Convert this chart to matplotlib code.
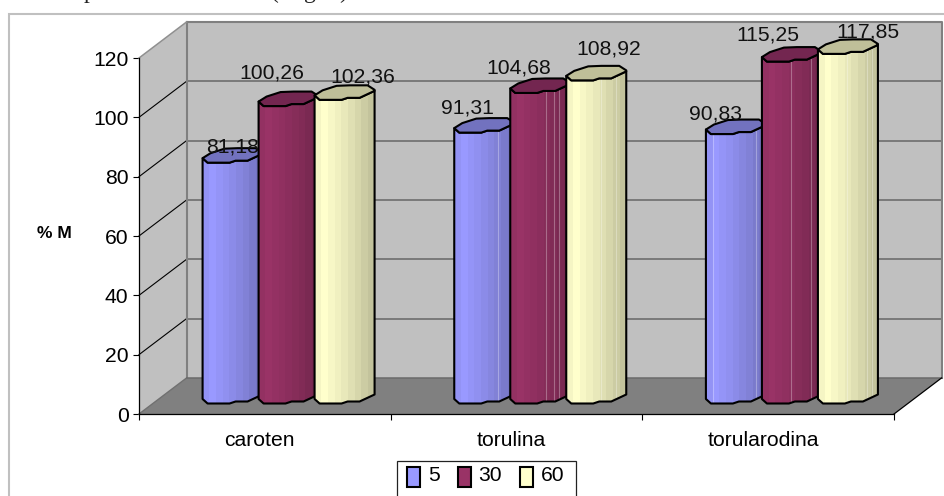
import matplotlib
matplotlib.use("Agg")
import matplotlib.pyplot as plt
from matplotlib.patches import Polygon, Patch, Rectangle
from matplotlib.legend_handler import HandlerPatch
from matplotlib.colors import to_rgb

# Chart data
categories = ["caroten", "torulina", "torularodina"]
series_names = ["5", "30", "60"]
values_5 = [81.18, 91.31, 90.83]
values_30 = [100.26, 104.68, 115.25]
values_60 = [102.36, 108.92, 117.85]
y_ticks = [0, 20, 40, 60, 80, 100, 120]

# Styling
W, H = 944, 496
plt.rcParams["font.family"] = ["Liberation Sans", "DejaVu Sans"]
base_colors = ["#9999FF", "#993366", "#FFFFCC"]
top_colors = ["#7272BF", "#732650", "#BFBF99"]
shade = [0.96, 1.0, 0.97, 0.94, 0.91, 0.875, 0.84, 0.80, 0.765]
FS = 15.2

AX_L, AX_R, AX_T, AX_B = 139, 894, 58, 414
PX_X = 3 / (AX_R - AX_L)          # categories per pixel
PX_Y = 120 / (AX_B - AX_T)        # value units per pixel
DEPTH_X, DEPTH_Y = 47.5 * PX_X, 36 * PX_Y

fig = plt.figure(figsize=(W / 100, H / 100), dpi=100, facecolor="white")
ax = fig.add_axes([AX_L / W, 1 - AX_B / H, (AX_R - AX_L) / W, (AX_B - AX_T) / H])
ax.set_xlim(0, 3)
ax.set_ylim(0, 120)
ax.patch.set_visible(False)

# Outer chart frame and the clipped line of body text above it
frame_top = 1 - 13.5 / H
fig.add_artist(Rectangle((9 / W, -0.1), 1.1, 0.1 + frame_top, transform=fig.transFigure,
                         facecolor="white", edgecolor="#C0C0C0", linewidth=1.5, zorder=-5))
for s, xp in [("p", 90), ("(", 275), ("g", 310), (")", 343)]:
    fig.text(xp / W, 1 + 2 / H, s, family="Liberation Serif", fontsize=17,
             ha="center", va="baseline", color="#222222")

# 3-D box: left wall, back wall and floor
wall, floor, edge = "#C0C0C0", "#808080", "#808080"
ax.add_patch(Polygon([(0, 0), (DEPTH_X, DEPTH_Y), (DEPTH_X, 120 + DEPTH_Y), (0, 120)],
                     facecolor=wall, edgecolor="none", clip_on=False, zorder=1))
ax.add_patch(Polygon([(DEPTH_X, DEPTH_Y), (3 + DEPTH_X, DEPTH_Y), (3 + DEPTH_X, 120 + DEPTH_Y),
                      (DEPTH_X, 120 + DEPTH_Y)],
                     facecolor=wall, edgecolor="none", clip_on=False, zorder=1))
ax.add_patch(Polygon([(0, 0), (3, 0), (3 + DEPTH_X, DEPTH_Y), (DEPTH_X, DEPTH_Y)],
                     facecolor=floor, edgecolor="none", clip_on=False, zorder=1))

# Gridlines wrap from the left wall on to the back wall
for t in y_ticks[1:-1]:
    ax.plot([0, DEPTH_X], [t, t + DEPTH_Y], color="black", lw=0.8, clip_on=False, zorder=2)
    ax.plot([DEPTH_X, 3 + DEPTH_X], [t + DEPTH_Y] * 2, color="#666666", lw=1.1, clip_on=False, zorder=2)
ax.plot([DEPTH_X, 3 + DEPTH_X, 3 + DEPTH_X], [120 + DEPTH_Y, 120 + DEPTH_Y, DEPTH_Y],
        color=edge, lw=1.5, clip_on=False, zorder=2)
ax.plot([DEPTH_X, DEPTH_X], [DEPTH_Y, 120 + DEPTH_Y], color=edge, lw=1.5, clip_on=False, zorder=2)
ax.plot([0, DEPTH_X], [120, 120 + DEPTH_Y], color="#909090", lw=1.1, clip_on=False, zorder=2)
ax.plot([0, DEPTH_X], [0, DEPTH_Y], color="#707070", lw=1.0, clip_on=False, zorder=2)
ax.plot([DEPTH_X, 3 + DEPTH_X], [DEPTH_Y, DEPTH_Y], color="#6A6A6A", lw=1.1, clip_on=False, zorder=2)
ax.plot([3, 3 + DEPTH_X], [0, DEPTH_Y], color="black", lw=0.9, clip_on=False, zorder=2)

# Faceted outline of a cylinder end, in pixels from the end's centre
front_arc = [(-30, 3), (-25, 7.5), (-3, 7.5), (3, 5.5), (15, 5.5), (30, -1.5)]
back_arc = [(30, -2.5), (23, -7), (5, -7), (-8, -6.5), (-22, -2), (-30, 3)]
# Light seams on the cylinder sides, pixels from the axis, per (group, series)
seams = {(1, 1): [6, 14, 19], (1, 2): [5, 20], (1, 0): [14],
         (2, 0): [-23, 20], (2, 1): [-1, 19], (2, 2): [-1, 19, 24]}
series_dx = [-56, 0, 56]


def cylinder(cat, sidx, val, z):
    cx = cat + 0.5 + DEPTH_X / 2 + series_dx[sidx] * PX_X
    cy0 = DEPTH_Y / 2
    cyl = cy0 + val

    def pts(arc, base):
        return [(cx + dx * PX_X, base - dy * PX_Y) for dx, dy in arc]

    outline = pts(front_arc, cy0) + pts(front_arc[::-1], cyl)
    body = Polygon(outline, closed=True, facecolor="none", edgecolor="none", clip_on=False,
                   zorder=z)
    ax.add_patch(body)
    rgb = to_rgb(base_colors[sidx])
    n = len(shade)
    for i, f in enumerate(shade):
        x0 = cx + (-30 + 60 * i / n) * PX_X
        bar = ax.bar(x0, cyl + 5, width=(60 / n + 0.6) * PX_X, bottom=0, align="edge",
                     color=tuple(c * f for c in rgb), linewidth=0, zorder=z)
        bar[0].set_clip_box(None)
        bar[0].set_clip_path(body)
    for dx in seams.get((cat, sidx), []):
        ln, = ax.plot([cx + dx * PX_X] * 2, [0, cyl + 5], color="white", alpha=0.3, lw=0.8, zorder=z)
        ln.set_clip_box(None)
        ln.set_clip_path(body)
    ax.add_patch(Polygon(outline, closed=True, facecolor="none", edgecolor="black", lw=1.5,
                         joinstyle="round", clip_on=False, zorder=z + 0.2))
    ax.add_patch(Polygon(pts(front_arc + back_arc, cyl), closed=True, facecolor=top_colors[sidx],
                         edgecolor="black", lw=1.5, joinstyle="round", clip_on=False, zorder=z + 0.3))
    return cx, cyl


# Value labels sit at hand-tuned pixel offsets from each cylinder's top centre
label_offsets = {
    (0, 0): (0, 8), (0, 1): (-17, 26), (0, 2): (18, 15),
    (1, 0): (-17, 17), (1, 1): (-21, 17), (1, 2): (12, 24),
    (2, 0): (-20, 13), (2, 1): (-24, 19), (2, 2): (20, 14),
}
all_values = [values_5, values_30, values_60]
z = 3
for cat in range(len(categories)):
    for sidx, vals in enumerate(all_values):
        cx, cyl = cylinder(cat, sidx, vals[cat], z)
        ox, oy = label_offsets[(cat, sidx)]
        ax.annotate(f"{vals[cat]:.2f}".replace(".", ","), (cx, cyl),
                    xytext=(ox * 0.72, oy * 0.72), textcoords="offset points",
                    ha="center", va="center", fontsize=FS, color="#111111", zorder=20,
                    annotation_clip=False)
        z += 1

# Axes, ticks, labels
for s in ("top", "right"):
    ax.spines[s].set_visible(False)
for s in ("left", "bottom"):
    ax.spines[s].set_linewidth(0.9)
    ax.spines[s].set_zorder(2.5)
ax.set_yticks(y_ticks)
ax.tick_params(axis="y", length=4.3, width=0.8, pad=3.2, labelsize=FS)
ax.set_xticks([0, 1, 2, 3])
ax.set_xticklabels([])
ax.tick_params(axis="x", which="major", length=4.3, width=0.8)
ax.set_xticks([0.48, 1.48, 2.48], labels=categories, minor=True)
ax.tick_params(axis="x", which="minor", length=0, pad=12.5, labelsize=FS)
ax.set_ylabel("% M", rotation=0, fontsize=12.5, fontweight="bold", ha="center", va="center")
ax.yaxis.set_label_coords((54 - AX_L) / (AX_R - AX_L), (AX_B - 233) / (AX_B - AX_T))

# Legend box runs off the lower edge of the figure
fig.add_artist(Rectangle((397 / W, -0.05), 179 / W, 0.05 + 1 - 461 / H, transform=fig.transFigure,
                         facecolor="white", edgecolor="#222222", linewidth=0.9, zorder=5))
handles = [Patch(facecolor=c, edgecolor="black", linewidth=1.5) for c in base_colors]
leg = fig.legend(handles, series_names, ncol=3, loc="upper left",
                 bbox_to_anchor=(407 / W, 1 - 466 / H), bbox_transform=fig.transFigure,
                 fontsize=FS, frameon=False, borderaxespad=0, borderpad=0, handlelength=0.63,
                 handleheight=0.63, handletextpad=0.36, columnspacing=0.85,
                 handler_map={Patch: HandlerPatch(ypad=-0.33)})
leg.set_zorder(6)

fig.savefig("out.png", dpi=100)
